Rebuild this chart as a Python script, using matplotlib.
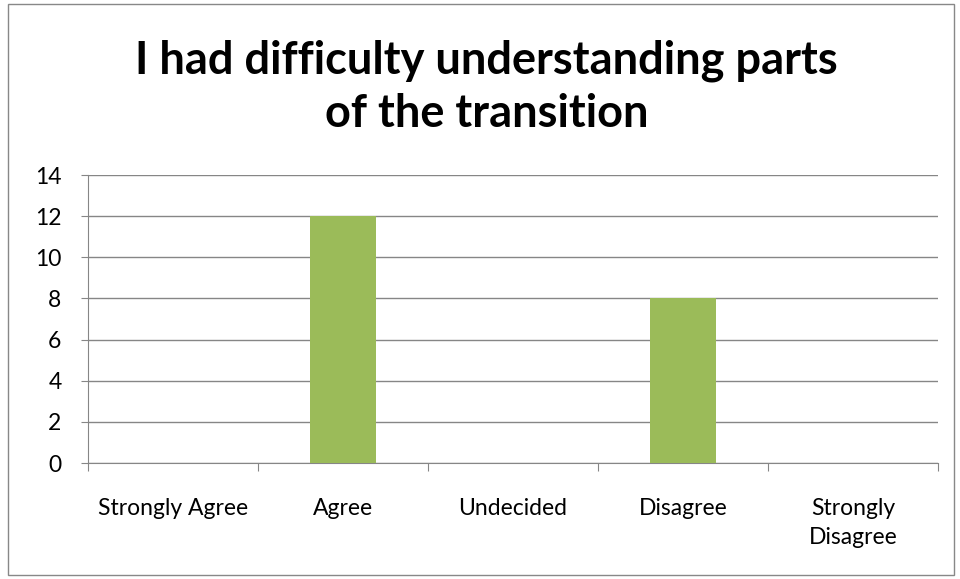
import matplotlib.pyplot as plt
from matplotlib.patches import Rectangle

categories = ["Strongly Agree", "Agree", "Undecided", "Disagree", "Strongly\nDisagree"]
counts = [0, 12, 0, 8, 0]
title = "I had difficulty understanding parts\nof the transition"

plt.rcParams['font.family'] = ['Lato', 'DejaVu Sans']

fig = plt.figure(figsize=(9.6, 5.79), dpi=100)
ax = fig.add_axes([88/960, 1 - 463/579, 850/960, 288/579])

x = range(len(categories))
ax.bar(x, counts, width=0.39, color='#9BBB59', zorder=3)

ax.set_xlim(-0.5, len(categories) - 0.5)
ax.set_ylim(0, 14)
ax.set_yticks(range(0, 15, 2))
ax.yaxis.grid(True, color='#868686', linewidth=1, zorder=0)

ax.set_xticks([i - 0.5 for i in range(len(categories) + 1)], minor=False)
ax.set_xticklabels([])
ax.set_xticks(list(x), minor=True)
ax.set_xticklabels(categories, minor=True, fontsize=16.5, linespacing=1.5)
ax.tick_params(axis='x', which='minor', length=0, pad=25)
ax.tick_params(axis='x', which='major', length=6, color='#868686', direction='out')
ax.tick_params(axis='y', length=5, color='#868686', labelsize=16.5, pad=14)

for s in ['top', 'right']:
    ax.spines[s].set_visible(False)
ax.spines['left'].set_color('#868686')
ax.spines['bottom'].set_color('#868686')

fig.text(0.507, 1 - 87/579, title, ha='center', va='center', fontsize=32.5,
         fontweight='bold', linespacing=1.32)

fig.patches.append(Rectangle((8/960, 4/579), 946/960, 571/579, transform=fig.transFigure,
                             fill=False, edgecolor='#888888', linewidth=1))

fig.savefig('out.png', dpi=100)
